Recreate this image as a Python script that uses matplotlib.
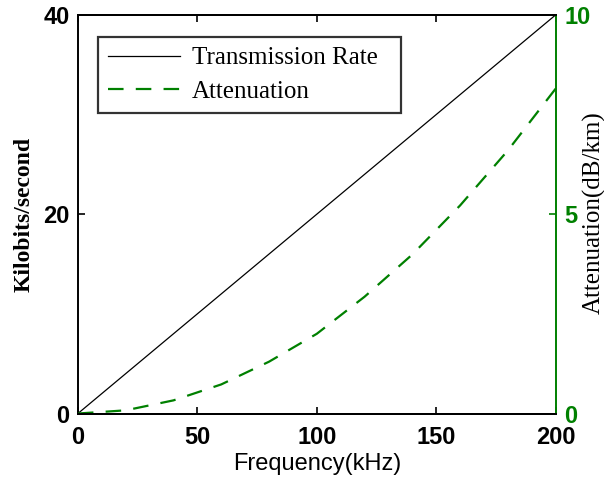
import matplotlib
matplotlib.use("Agg")
import matplotlib.pyplot as plt

# data
freq_rate = [0, 200]
rate_kbps = [0, 40]

freq_att = [0, 20, 40, 60, 80, 100, 120, 140, 160, 180, 200]
atten_db = [0, 0.08, 0.33, 0.73, 1.3, 2.0, 2.93, 3.99, 5.22, 6.6, 8.15]

green = "#008000"
serif = ["Liberation Serif", "DejaVu Serif"]
sans = ["Liberation Sans", "DejaVu Sans"]

fig = plt.figure(figsize=(6.04, 4.80), dpi=100)
ax = fig.add_axes([0.129, 0.1385, 0.791, 0.8305])
ax2 = ax.twinx()

l1, = ax.plot(freq_rate, rate_kbps, color="black", lw=0.9, label="Transmission Rate")
l2, = ax2.plot(freq_att, atten_db, color=green, lw=1.6, ls=(0, (7, 5.5)), label="Attenuation")

ax.set_xlim(0, 200)
ax.set_ylim(0, 40)
ax2.set_ylim(0, 10)
ax.set_xticks([0, 50, 100, 150, 200])
ax.set_yticks([0, 20, 40])
ax2.set_yticks([0, 5, 10])

ax.tick_params(axis="x", direction="in", top=True, length=5, width=1.2, pad=9)
ax.tick_params(axis="y", direction="in", right=False, length=5, width=1.2, pad=6)
ax2.tick_params(axis="y", direction="in", colors=green, length=5, width=1.2, pad=6)

for lab in ax.get_xticklabels() + ax.get_yticklabels():
    lab.set_family(sans)
    lab.set_fontweight("bold")
    lab.set_fontsize(17)
for lab in ax2.get_yticklabels():
    lab.set_family(sans)
    lab.set_fontweight("bold")
    lab.set_fontsize(17)
    lab.set_color(green)

for s in ax.spines.values():
    s.set_linewidth(1.4)
for s in ax2.spines.values():
    s.set_linewidth(1.4)
ax2.spines["right"].set_color(green)
ax2.spines["left"].set_visible(False)
ax.spines["right"].set_visible(False)

ax.set_xlabel("Frequency(kHz)", family=sans, fontsize=17, labelpad=3)
ax.set_ylabel("Kilobits/second", family=serif, fontsize=17, fontweight="bold", labelpad=6)
ax2.set_ylabel("Attenuation(dB/km)", family=serif, fontsize=18)
# right label sits tight against the figure edge, as in the reference
ax2.yaxis.set_label_coords(1.056, 0.505)

leg = ax.legend(handles=[l1, l2], loc="upper left",
                bbox_to_anchor=(0.042, 0.945, 0.634, 0), mode="expand",
                borderaxespad=0, prop={"family": serif, "size": 18}, frameon=True,
                fancybox=False, edgecolor="black", handlelength=2.9, borderpad=0.4,
                labelspacing=0.45, handletextpad=0.45)
leg.get_frame().set_linewidth(1.6)

fig.savefig("out.png", dpi=100)
